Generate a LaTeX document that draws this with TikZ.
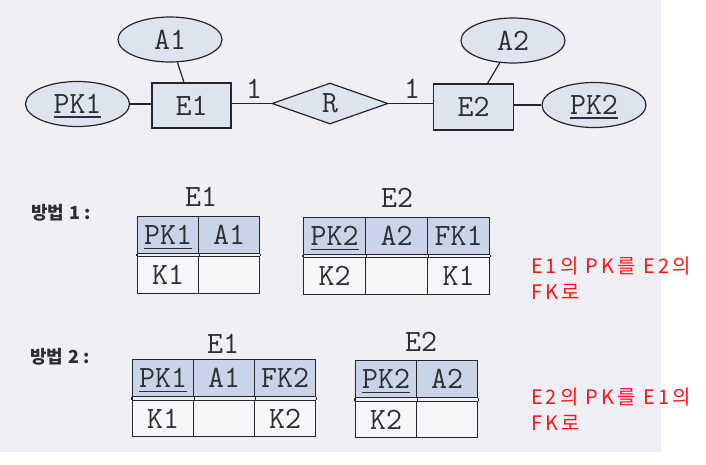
\documentclass[tikz,border=0pt]{standalone}
\usepackage{fontspec}
\usetikzlibrary{shapes.geometric}
\newfontfamily\krfont{Noto Sans CJK KR}
\newfontfamily\krspaced{Noto Sans CJK KR}[LetterSpace=15]
\definecolor{bgc}{RGB}{239,239,245}
\definecolor{erfill}{RGB}{221,227,239}
\definecolor{hfill}{RGB}{201,212,233}
\definecolor{dfill}{RGB}{246,246,249}
\definecolor{lnc}{RGB}{38,38,42}
\definecolor{txc}{RGB}{45,45,50}
\definecolor{notec}{RGB}{255,20,20}
\newcommand{\mtfont}{\fontsize{31}{34}\selectfont\ttfamily}
\newcommand{\pkul}[1]{\setbox0=\hbox{#1}\rlap{\smash{\rule[-4.5pt]{\wd0}{1.7pt}}}\box0}
\tikzset{
  attr/.style={ellipse, draw=lnc, fill=erfill, line width=1.2pt, minimum width=104pt, minimum height=45pt, inner sep=0pt, font=\mtfont, text=txc},
  ent/.style={rectangle, draw=lnc, fill=erfill, line width=1.3pt, minimum width=79pt, minimum height=45pt, inner sep=0pt, font=\mtfont, text=txc},
  rel/.style={diamond, draw=lnc, fill=erfill, line width=1.2pt, minimum width=116pt, minimum height=41pt, aspect=2.8, inner sep=0pt, font=\mtfont, text=txc},
  conn/.style={draw=lnc, line width=1.2pt},
  lbl/.style={inner sep=0pt, font=\mtfont, text=txc},
  hcell/.style={rectangle, draw=lnc, fill=hfill, line width=1.2pt, minimum width=61pt, minimum height=37pt, inner sep=0pt, anchor=north west, font=\mtfont, text=txc},
  dcell/.style={rectangle, draw=lnc, fill=dfill, line width=1.2pt, minimum width=61pt, minimum height=36.5pt, inner sep=0pt, anchor=north west, font=\mtfont, text=txc},
  kor/.style={inner sep=0pt, anchor=west, font=\krfont\bfseries\fontsize{18}{20}\selectfont, text=txc},
  note/.style={inner sep=0pt, anchor=north west, align=left, font=\krspaced\fontsize{20}{26}\selectfont, text=notec},
}
\begin{document}
\begin{tikzpicture}[x=1pt,y=-1pt]
\useasboundingbox (0,0) rectangle (706,464);
\fill[white] (0,0) rectangle (706,464);
\fill[bgc] (0,0) rectangle (661,452);

% ER diagram
\node[attr] (A1) at (170,39.5) {A1};
\node[attr] (PK1) at (77.5,104) {\pkul{PK1}};
\node[ent] (E1) at (191.5,105.5) {E1};
\node[rel] (R) at (330,103.5) {R};
\node[ent, minimum width=80pt, minimum height=46pt] (E2) at (473.5,107) {E2};
\node[attr] (A2) at (513,40.5) {A2};
\node[attr] (PK2) at (594,105) {\pkul{PK2}};

\draw[conn] (PK1.east) -- (PK1.east -| E1.west);
\draw[conn] (A1) -- (E1);
\draw[conn] (R.west -| E1.east) -- (R.west);
\draw[conn] (R.east) -- (R.east -| E2.west);
\draw[conn] (A2) -- (E2);
\draw[conn] (PK2.west -| E2.east) -- (PK2.west);

\node[lbl] (c1) at (254,89) {1};
\node[lbl] (c2) at (412,89) {1};

% Method 1
\node[kor] (m1) at (31,213) {방법\hspace{5pt}1\hspace{4pt}:};
\node[lbl] (t1) at (201,196.5) {E1};
\node[hcell] (a11) at (137,216) {\pkul{PK1}};
\node[hcell] (a12) at (198,216) {A1};
\node[dcell] (a21) at (137,256) {K1};
\node[dcell] (a22) at (198,256) {};
\draw[conn] (a11.south west) -- (a21.north west);
\draw[conn] (a11.south east) -- (a21.north east);
\draw[conn] (a12.south east) -- (a22.north east);

\node[lbl] (t2) at (397,198) {E2};
\node[hcell, minimum width=62pt] (b11) at (303,217) {\pkul{PK2}};
\node[hcell, minimum width=62pt] (b12) at (365,217) {A2};
\node[hcell, minimum width=62pt] (b13) at (427,217) {FK1};
\node[dcell, minimum width=62pt] (b21) at (303,257) {K2};
\node[dcell, minimum width=62pt] (b22) at (365,257) {};
\node[dcell, minimum width=62pt] (b23) at (427,257) {K1};
\draw[conn] (b11.south west) -- (b21.north west);
\draw[conn] (b11.south east) -- (b21.north east);
\draw[conn] (b12.south east) -- (b22.north east);
\draw[conn] (b13.south east) -- (b23.north east);

\node[note] (n1) at (531,257) {E1의 PK를 E2의\\FK로};

% Method 2
\node[kor] (m2) at (30,357) {방법\hspace{5pt}2\hspace{4pt}:};
\node[lbl] (t3) at (223,344) {E1};
\node[hcell] (c11) at (132,359) {\pkul{PK1}};
\node[hcell] (c12) at (193,359) {A1};
\node[hcell] (c13) at (254,359) {FK2};
\node[dcell] (c21) at (132,399.5) {K1};
\node[dcell] (c22) at (193,399.5) {};
\node[dcell] (c23) at (254,399.5) {K2};
\draw[conn] (c11.south west) -- (c21.north west);
\draw[conn] (c11.south east) -- (c21.north east);
\draw[conn] (c12.south east) -- (c22.north east);
\draw[conn] (c13.south east) -- (c23.north east);

\node[lbl] (t4) at (421,341.5) {E2};
\node[hcell] (d11) at (355,360) {\pkul{PK2}};
\node[hcell] (d12) at (416,360) {A2};
\node[dcell] (d21) at (355,400.5) {K2};
\node[dcell] (d22) at (416,400.5) {};
\draw[conn] (d11.south west) -- (d21.north west);
\draw[conn] (d11.south east) -- (d21.north east);
\draw[conn] (d12.south east) -- (d22.north east);

\node[note] (n2) at (531,388) {E2의 PK를 E1의\\FK로};
\end{tikzpicture}
\end{document}
